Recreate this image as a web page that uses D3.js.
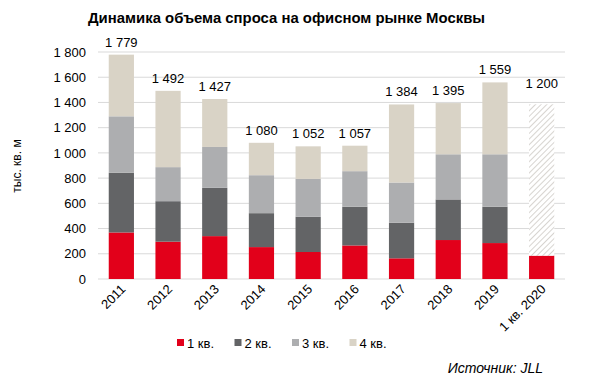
<!DOCTYPE html>
<html>
<head>
<meta charset="utf-8">
<script src="https://d3js.org/d3.v7.min.js"></script>
<style>
  body { margin: 0; background: #fff; }
  svg text { font-family: "Liberation Sans", Arial, sans-serif; fill: #000; }
</style>
</head>
<body>
<svg id="chart" width="600" height="385"></svg>
<script>
// data
const years = ["2011", "2012", "2013", "2014", "2015", "2016", "2017", "2018", "2019", "1 кв. 2020"];
const q1 = [369, 296, 340, 253, 214, 266, 164, 309, 285, 185];
const q2 = [473, 321, 383, 269, 279, 307, 282, 322, 288, 0];
const q3 = [448, 270, 324, 301, 301, 282, 319, 358, 416, 0];
const q4 = [489, 605, 380, 257, 258, 202, 619, 406, 570, 0];
const forecast = [0, 0, 0, 0, 0, 0, 0, 0, 0, 1200];   // hatched part of the last bar
const totals = ["1 779", "1 492", "1 427", "1 080", "1 052", "1 057", "1 384", "1 395", "1 559", "1 200"];
const yTicks = [0, 200, 400, 600, 800, 1000, 1200, 1400, 1600, 1800];
const seriesNames = ["1 кв.", "2 кв.", "3 кв.", "4 кв."];
const colors = ["#e2001a", "#636466", "#adaeb0", "#d9d3c6"];

const svg = d3.select("#chart");
const mLeft = 98, mRight = 565, mTop = 52, mBottom = 279;

const x = d3.scaleBand().domain(years).range([mLeft, mRight]).paddingInner(0.46).paddingOuter(0.23);
const y = d3.scaleLinear().domain([0, 1800]).range([mBottom, mTop]);

// hatch pattern
const defs = svg.append("defs");
const pat = defs.append("pattern").attr("id", "hatch")
  .attr("patternUnits", "userSpaceOnUse").attr("width", 4).attr("height", 4)
  .attr("patternTransform", "rotate(45)");
pat.append("rect").attr("width", 4).attr("height", 4).attr("fill", "#fff");
pat.append("line").attr("x1", 0).attr("y1", 0).attr("x2", 0).attr("y2", 4)
  .attr("stroke", "#cdcac4").attr("stroke-width", 1.6);

// title
svg.append("text").attr("x", 88).attr("y", 23)
  .attr("textLength", 397).attr("lengthAdjust", "spacingAndGlyphs")
  .style("font-weight", "bold").style("font-size", "15px")
  .text("Динамика объема спроса на офисном рынке Москвы");

// grid
svg.append("g").selectAll("line").data(yTicks).join("line")
  .attr("x1", mLeft).attr("x2", mRight)
  .attr("y1", d => y(d)).attr("y2", d => y(d))
  .attr("stroke", "#d9d9d9").attr("stroke-width", 1);

// y axis labels
const yAxis = d3.axisLeft(y).tickValues(yTicks).tickSize(0).tickPadding(12)
  .tickFormat(d => d3.format(",")(d).replace(",", " "));
svg.append("g").attr("transform", `translate(${mLeft},0)`).call(yAxis)
  .call(g => g.select(".domain").remove())
  .selectAll("text").style("font-size", "13px").attr("fill", "#000")
  .style("font-family", "'Liberation Sans', Arial, sans-serif");

svg.append("text").attr("transform", "translate(21,166) rotate(-90)")
  .attr("text-anchor", "middle").style("font-size", "12px").text("тыс. кв. м");

// stacked bars
const rows = years.map((yr, i) => ({ yr, q1: q1[i], q2: q2[i], q3: q3[i], q4: q4[i], f: forecast[i] }));
const stack = d3.stack().keys(["q1", "q2", "q3", "q4", "f"])(rows);
const fills = colors.concat(["url(#hatch)"]);

svg.append("g").selectAll("g").data(stack).join("g")
  .attr("fill", (d, i) => fills[i])
  .selectAll("rect").data(d => d.filter(p => p[1] > p[0])).join("rect")
  .attr("x", d => x(d.data.yr))
  .attr("width", x.bandwidth())
  .attr("y", d => y(d[1]))
  .attr("height", d => y(d[0]) - y(d[1]));

// value labels (forecast label sits a bit higher)
const tops = rows.map(r => r.q1 + r.q2 + r.q3 + r.q4 + r.f);
svg.append("g").selectAll("text").data(years).join("text")
  .attr("x", d => x(d) + x.bandwidth() / 2)
  .attr("y", (d, i) => y(tops[i]) - (forecast[i] > 0 ? 16 : 8))
  .attr("text-anchor", "middle").style("font-size", "13px")
  .text((d, i) => totals[i]);

// x labels
svg.append("g").selectAll("text").data(years).join("text")
  .attr("transform", d => `translate(${x(d) + x.bandwidth() / 2 + 5},${mBottom + 11}) rotate(-45)`)
  .attr("text-anchor", "end").style("font-size", "13px")
  .text(d => d);

// legend
const leg = svg.append("g").selectAll("g").data(seriesNames).join("g")
  .attr("transform", (d, i) => `translate(${177 + i * 57.5},343)`);
leg.append("rect").attr("x", 0).attr("y", -4).attr("width", 7).attr("height", 7)
  .attr("fill", (d, i) => colors[i]);
leg.append("text").attr("x", 10).attr("y", 4.5).style("font-size", "13px").text(d => d);

// source
svg.append("text").attr("x", 543).attr("y", 373).attr("text-anchor", "end")
  .style("font-size", "14px").style("font-style", "italic").text("Источник: JLL");
</script>
</body>
</html>
